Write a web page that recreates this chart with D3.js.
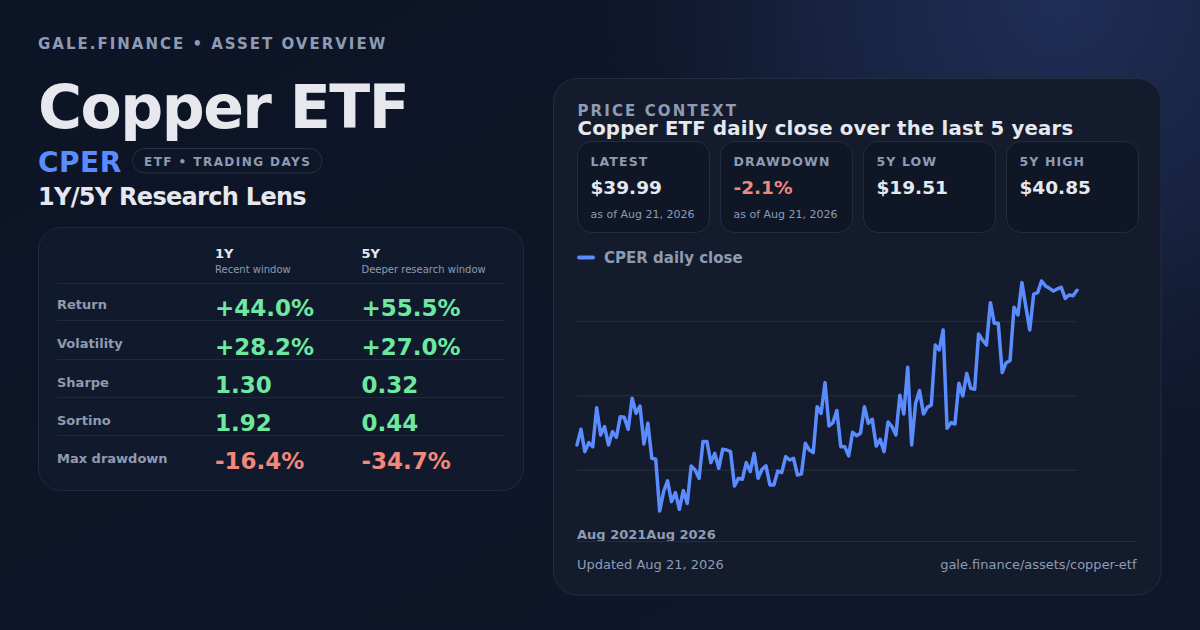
<!DOCTYPE html>
<html><head><meta charset="utf-8">
<script src="https://cdn.jsdelivr.net/npm/d3@7"></script>
<style>
html,body{margin:0;padding:0;width:1200px;height:630px;overflow:hidden;background:#0d1425;}
svg{display:block;font-family:"DejaVu Sans",sans-serif;}
</style></head><body>
<svg id="c" width="1200" height="630"></svg>
<script>
// ---- data ----
const prices = [25.64, 27.09, 25.02, 25.85, 25.48, 29.10, 26.56, 27.34, 25.64, 26.87,
  26.35, 28.26, 28.20, 27.09, 29.97, 28.57, 29.25, 25.73, 27.65, 24.40,
  24.31, 19.51, 21.31, 22.30, 20.38, 21.21, 19.67, 21.40, 20.22, 23.69,
  23.32, 22.54, 25.95, 25.95, 24.00, 24.86, 23.47, 25.23, 25.17, 25.02,
  21.83, 22.54, 22.45, 24.00, 23.16, 24.86, 22.54, 23.38, 23.69, 21.93,
  21.93, 23.22, 23.07, 24.55, 24.24, 24.40, 22.85, 22.95, 25.79, 25.17,
  24.93, 29.19, 28.57, 31.42, 27.40, 27.71, 28.82, 25.48, 25.48, 24.62,
  26.81, 26.50, 26.72, 29.19, 27.65, 28.02, 25.54, 26.16, 25.02, 27.77,
  27.34, 26.56, 30.24, 28.51, 32.84, 25.64, 29.50, 30.68, 28.51, 29.13,
  29.35, 34.91, 34.45, 36.30, 27.18, 27.71, 27.58, 31.36, 30.18, 32.28,
  30.89, 30.80, 35.93, 35.38, 34.91, 38.84, 36.92, 36.92, 32.35, 33.27,
  33.46, 38.41, 37.70, 40.70, 38.47, 36.30, 39.64, 39.77, 40.85, 40.39,
  40.17, 39.92, 40.11, 40.26, 39.24, 39.55, 39.49, 39.99];
const gridValues = [23.3, 30.2, 37.1];
const xTickLabels = ["Aug 2021", "Aug 2026"];
const metricNames = ["Return", "Volatility", "Sharpe", "Sortino", "Max drawdown"];
const values1Y = ["+44.0%", "+28.2%", "1.30", "1.92", "-16.4%"];
const values5Y = ["+55.5%", "+27.0%", "0.32", "0.44", "-34.7%"];
const valueTone = ["pos", "pos", "pos", "pos", "neg"];
const windowNames = ["1Y", "5Y"];
const windowSubs = ["Recent window", "Deeper research window"];
const statLabels = ["LATEST", "DRAWDOWN", "5Y LOW", "5Y HIGH"];
const statValues = ["$39.99", "-2.1%", "$19.51", "$40.85"];
const statTone = ["plain", "neg", "plain", "plain"];
const statSubs = ["as of Aug 21, 2026", "as of Aug 21, 2026", "", ""];

// ---- style ----
const C = {muted:"#8e9bb3", text:"#e6e8ee", blue:"#5b8cff", pos:"#6ee7a0", neg:"#f2877b",
  line:"#1f2a3e", cardStroke:"#222d42"};
const svg = d3.select("#c");
const defs = svg.append("defs");
const rg = defs.append("radialGradient").attr("id","glow").attr("gradientUnits","userSpaceOnUse")
  .attr("cx",1060).attr("cy",0).attr("r",560);
rg.append("stop").attr("offset","0%").attr("stop-color","#1f2e56");
rg.append("stop").attr("offset","45%").attr("stop-color","#17223f");
rg.append("stop").attr("offset","100%").attr("stop-color","#0d1425").attr("stop-opacity",0);
const lg = defs.append("linearGradient").attr("id","base").attr("x1",0).attr("y1",0).attr("x2",1).attr("y2",1);
lg.append("stop").attr("offset","0%").attr("stop-color","#0d1426");
lg.append("stop").attr("offset","100%").attr("stop-color","#0f172a");
svg.append("rect").attr("width",1200).attr("height",630).attr("fill","url(#base)");
svg.append("rect").attr("width",1200).attr("height",630).attr("fill","url(#glow)");

function txt(x,y,s,size,weight,fill,ls,anchor){
  return svg.append("text").attr("x",x).attr("y",y).text(s)
    .attr("font-size",size).attr("font-weight",weight).attr("fill",fill)
    .style("letter-spacing",(ls||0)+"px").attr("text-anchor",anchor||"start");
}

// ---- header ----
txt(38,49,"GALE.FINANCE • ASSET OVERVIEW",15,"bold",C.muted,2.0);
txt(38,127.5,"Copper ETF",60,"bold",C.text,-1.5);
txt(38,171.5,"CPER",28,"bold",C.blue,0.5);
svg.append("rect").attr("x",132.5).attr("y",148.5).attr("width",189.5).attr("height",24.5).attr("rx",12.25)
  .attr("fill","#0e1628").attr("stroke","#253149");
txt(144,166,"ETF • TRADING DAYS",12,"bold",C.muted,1.45);
txt(38,205,"1Y/5Y Research Lens",24,"bold",C.text,-0.7);

// ---- metrics table ----
svg.append("rect").attr("x",38.5).attr("y",227.5).attr("width",485).attr("height",263).attr("rx",22)
  .attr("fill","#111a2c").attr("stroke",C.line);
const colX = [215, 361.5];
windowNames.forEach((w,i)=>{
  txt(colX[i],258,w,13,"bold",C.text,0);
  txt(colX[i],273,windowSubs[i],10,"normal",C.muted,0);
});
const rowLines = [283.5, 320.5, 359.5, 397.5, 435.5];
svg.selectAll("line.row").data(rowLines).join("line").attr("class","row")
  .attr("x1",57).attr("x2",505).attr("y1",d=>d).attr("y2",d=>d).attr("stroke",C.line).attr("stroke-width",1);
const labelY = [309, 348.3, 386.7, 425, 463.3];
const valY = [316, 355, 392.5, 430.7, 469.3];
svg.selectAll("text.mlabel").data(metricNames).join("text").attr("class","mlabel")
  .attr("x",57).attr("y",(d,i)=>labelY[i]).text(d=>d)
  .attr("font-size",13).attr("font-weight","bold").attr("fill",C.muted);
[values1Y, values5Y].forEach((vals,ci)=>{
  svg.selectAll("text.v"+ci).data(vals).join("text").attr("class","v"+ci)
    .attr("x",colX[ci]).attr("y",(d,i)=>valY[i]).text(d=>d)
    .attr("font-size",23).attr("font-weight","bold")
    .attr("fill",(d,i)=>valueTone[i]==="pos"?C.pos:C.neg);
});

// ---- price card ----
svg.append("rect").attr("x",553.5).attr("y",78.5).attr("width",607.5).attr("height",516.5).attr("rx",24)
  .attr("fill","#131b2d").attr("stroke",C.cardStroke);
txt(577.5,116,"PRICE CONTEXT",15,"bold",C.muted,2.1);
txt(577.5,135,"Copper ETF daily close over the last 5 years",19.7,"bold",C.text,0.2);
const boxX = [577.5, 720.5, 863.5, 1006.5];
statLabels.forEach((l,i)=>{
  svg.append("rect").attr("x",boxX[i]).attr("y",141.5).attr("width",132).attr("height",91).attr("rx",14)
    .attr("fill","#0f1727").attr("stroke",C.cardStroke);
  txt(boxX[i]+13,166,l,12.5,"bold",C.muted,1.1);
  txt(boxX[i]+13,194,statValues[i],18.5,"bold",statTone[i]==="neg"?C.neg:C.text,0);
  if(statSubs[i]) txt(boxX[i]+13,217.5,statSubs[i],11,"normal",C.muted,0);
});

// legend
svg.append("line").attr("x1",579).attr("x2",593).attr("y1",257.5).attr("y2",257.5)
  .attr("stroke",C.blue).attr("stroke-width",4).attr("stroke-linecap","round");
txt(604,263,"CPER daily close",15,"bold",C.muted,0);

// chart
const x = d3.scaleLinear().domain([0, prices.length-1]).range([577, 1077]);
const y = d3.scaleLinear().domain([d3.min(prices), d3.max(prices)]).range([511, 281]);
const g = svg.append("g");
g.selectAll("line.grid").data(gridValues).join("line").attr("class","grid")
  .attr("x1",577).attr("x2",1077).attr("y1",d=>y(d)).attr("y2",d=>y(d))
  .attr("stroke","#1f2a3e").attr("stroke-width",1.5);
g.append("path").datum(prices)
  .attr("d", d3.line().x((d,i)=>x(i)).y(d=>y(d)))
  .attr("fill","none").attr("stroke",C.blue).attr("stroke-width",3.5)
  .attr("stroke-linejoin","round").attr("stroke-linecap","round");

const xt = svg.append("text").attr("x",577).attr("y",538.5).attr("font-size",13)
  .attr("font-weight","bold").attr("fill",C.muted);
xt.selectAll("tspan").data(xTickLabels).join("tspan").text(d=>d);

svg.append("line").attr("x1",577).attr("x2",1137).attr("y1",541.5).attr("y2",541.5).attr("stroke",C.cardStroke);
txt(577,568.5,"Updated Aug 21, 2026",13,"normal",C.muted,0);
txt(1136.5,568.5,"gale.finance/assets/copper-etf",13,"normal",C.muted,0,"end");
</script>
</body></html>
